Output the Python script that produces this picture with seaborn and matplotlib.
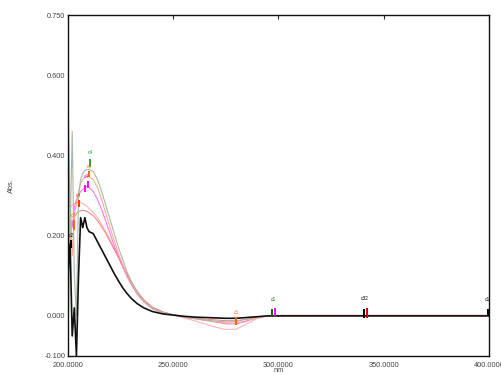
import matplotlib
matplotlib.use("Agg")
import matplotlib.pyplot as plt
import seaborn as sns
import pandas as pd

# ---- data ----
wavelength = [200, 201, 202, 203, 204, 205, 206, 207, 208, 209, 210, 212, 214, 216, 218,
              220, 222, 224, 226, 228, 230, 233, 236, 240, 245, 250, 255, 260, 265, 270,
              275, 280, 285, 290, 295, 300, 320, 340, 360, 380, 400]

abs_black = [0.10, 0.18, -0.05, 0.02, -0.10, 0.10, 0.245, 0.22, 0.245, 0.22, 0.21, 0.205, 0.185,
             0.165, 0.145, 0.125, 0.105, 0.087, 0.070, 0.056, 0.044, 0.030, 0.020, 0.011, 0.005,
             0.002, -0.001, -0.003, -0.004, -0.005, -0.006, -0.006, -0.004, -0.002, 0.0, 0.0,
             0.0, 0.0, 0.0, 0.0, 0.0]
abs_gray = [-0.05, 0.20, 0.46, 0.10, 0.00, 0.30, 0.34, 0.355, 0.362, 0.365, 0.365, 0.36, 0.34,
            0.31, 0.275, 0.24, 0.205, 0.17, 0.14, 0.11, 0.087, 0.058, 0.038, 0.02, 0.009, 0.003,
            -0.002, -0.006, -0.01, -0.013, -0.015, -0.014, -0.008, -0.002, 0.0, 0.0, 0.0, 0.0,
            0.0, 0.0, 0.0]
abs_orange = [0.02, 0.30, 0.15, 0.25, 0.28, 0.31, 0.33, 0.34, 0.345, 0.348, 0.347, 0.34, 0.32,
              0.29, 0.255, 0.22, 0.187, 0.155, 0.127, 0.10, 0.08, 0.054, 0.035, 0.018, 0.008,
              0.002, -0.003, -0.007, -0.011, -0.015, -0.018, -0.018, -0.012, -0.004, 0.0, 0.0,
              0.0, 0.0, 0.0, 0.0, 0.0]
abs_magenta = [0.50, 0.25, 0.22, 0.27, 0.29, 0.30, 0.31, 0.315, 0.32, 0.322, 0.32, 0.31, 0.29,
               0.265, 0.235, 0.205, 0.175, 0.148, 0.122, 0.098, 0.078, 0.053, 0.035, 0.018,
               0.008, 0.002, -0.003, -0.007, -0.011, -0.015, -0.02, -0.02, -0.013, -0.004, 0.0,
               0.0, 0.001, 0.001, 0.001, 0.001, 0.001]
abs_pink = [0.57, 0.27, 0.275, 0.28, 0.282, 0.283, 0.283, 0.28, 0.277, 0.273, 0.268, 0.258,
            0.245, 0.228, 0.21, 0.19, 0.168, 0.146, 0.125, 0.104, 0.085, 0.06, 0.04, 0.022, 0.01,
            0.002, -0.005, -0.012, -0.02, -0.028, -0.034, -0.033, -0.02, -0.006, 0.0, 0.002,
            0.002, 0.002, 0.002, 0.002, 0.002]
abs_red = [0.05, 0.20, 0.23, 0.245, 0.255, 0.26, 0.262, 0.263, 0.262, 0.26, 0.257, 0.25, 0.238,
           0.222, 0.205, 0.185, 0.165, 0.145, 0.124, 0.104, 0.085, 0.06, 0.04, 0.022, 0.01, 0.003,
           -0.002, -0.005, -0.008, -0.01, -0.012, -0.012, -0.008, -0.003, 0.0, 0.0, 0.0, 0.0,
           0.0, 0.0, 0.0]

series_values = [abs_pink, abs_red, abs_magenta, abs_orange, abs_gray, abs_black]
series_colors = ["#ffb4b4", "#ff7a7a", "#ff66ff", "#f7a683", "#a8b8a8", "#111111"]
series_widths = [0.8, 0.7, 0.7, 0.7, 0.8, 1.2]

# peak-pick marks
peak_x = [210.5, 210.0, 209.5, 208.0, 205.0, 203.0, 201.5, 280.0, 297.0, 298.5, 340.5, 342.0, 399.5]
peak_y0 = [0.372, 0.345, 0.318, 0.31, 0.272, 0.215, 0.17, -0.022, 0.0, 0.0, -0.005, -0.005, 0.0]
peak_y1 = [0.392, 0.362, 0.335, 0.325, 0.29, 0.24, 0.19, -0.004, 0.018, 0.02, 0.018, 0.02, 0.018]
peak_colors = ["#339933", "#ff6600", "#ff00ff", "#ff00ff", "#ff3300", "#ff6600", "#000000",
               "#ff6600", "#006600", "#ff00ff", "#000000", "#cc0000", "#000000"]
label_x = [210.5, 210.0, 208.5, 205.0, 202.5, 201.5, 280.0, 297.5, 341.0, 399.0]
label_y = [0.40, 0.365, 0.34, 0.295, 0.245, 0.195, 0.002, 0.035, 0.037, 0.035]
label_text = ["c4", "c4", "c4", "c4", "c7", "c2", "c1", "c1", "c32", "c1"]
label_colors = ["#339933", "#ff6600", "#ff00ff", "#ff3300", "#ff6600", "#000000",
                "#ff6600", "#006600", "#000000", "#000000"]

x_ticks = [200, 250, 300, 350, 400]
x_tick_labels = ["200.0000", "250.0000", "300.0000", "350.0000", "400.0000"]
y_ticks = [-0.1, 0.0, 0.2, 0.4, 0.6, 0.75]
y_tick_labels = ["-0.100", "0.000", "0.200", "0.400", "0.600", "0.750"]

# ---- plot ----
sns.set_style("white")
plt.rcParams["font.family"] = ["Liberation Sans", "DejaVu Sans"]

fig = plt.figure(figsize=(5.02, 3.75), dpi=100)
ax = fig.add_axes([68 / 502, 19 / 375, (489 - 68) / 502, (356 - 15) / 375])

for vals, col, lw in zip(series_values, series_colors, series_widths):
    df = pd.DataFrame({"nm": wavelength, "Abs.": vals})
    sns.lineplot(data=df, x="nm", y="Abs.", color=col, linewidth=lw, ax=ax, sort=False)

ax.vlines(peak_x, peak_y0, peak_y1, colors=peak_colors, linewidth=1.4)
for lx, ly, lt, lc in zip(label_x, label_y, label_text, label_colors):
    ax.text(lx, ly, lt, color=lc, fontsize=3.5, ha="center", va="bottom")

ax.set_xlim(200, 400)
ax.set_ylim(-0.1, 0.75)
ax.set_xticks(x_ticks)
ax.set_xticklabels(x_tick_labels)
ax.set_yticks(y_ticks)
ax.set_yticklabels(y_tick_labels)
ax.tick_params(direction="in", length=3, width=0.8, labelsize=5.3, labelcolor="#444444",
               top=True, right=False)
ax.tick_params(axis="x", pad=4)
ax.tick_params(axis="y", pad=2)
for s in ax.spines.values():
    s.set_color("#111111")
    s.set_linewidth(1.0)

ax.set_xlabel("nm", fontsize=5.3, color="#444444", labelpad=-1)
ax.set_ylabel("Abs.", fontsize=5.3, color="#444444", labelpad=21)
ax.grid(False)

fig.savefig("out.png", dpi=100)
